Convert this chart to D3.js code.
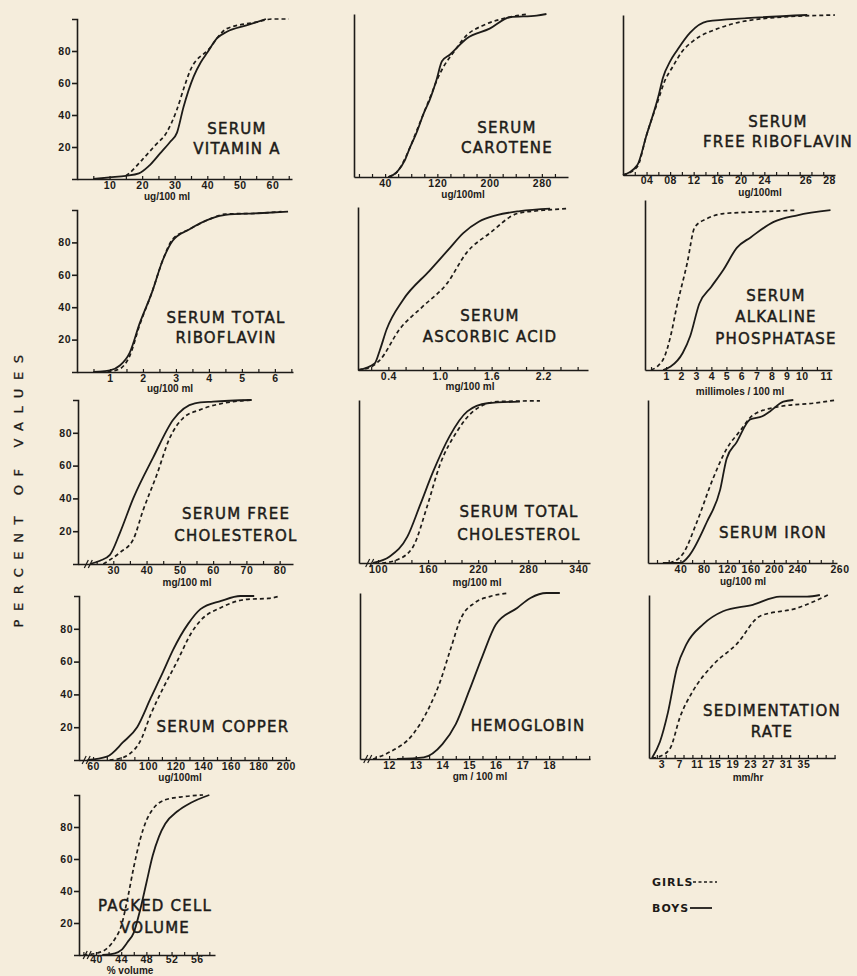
<!DOCTYPE html>
<html>
<head>
<meta charset="utf-8">
<script src="https://cdn.jsdelivr.net/npm/d3@7"></script>
<style>
  body { margin: 0; background: #f5eddc; }
  svg { display: block; }
  .title { font-family: "DejaVu Sans"; font-size: 15px; letter-spacing: 1.2px; fill: #1d1b18; stroke: #1d1b18; stroke-width: 0.45px; }
  .tick text { font-family: "Liberation Sans"; font-weight: bold; font-size: 10.5px; fill: #1d1b18; letter-spacing: 0.5px; }
  .unit { font-family: "Liberation Sans"; font-weight: bold; font-size: 10px; fill: #1d1b18; }
  .ylab { font-family: "DejaVu Sans"; font-size: 13px; letter-spacing: 8.6px; fill: #1d1b18; stroke: #1d1b18; stroke-width: 0.3px; }
  .legend { font-family: "DejaVu Sans"; font-weight: bold; font-size: 11px; letter-spacing: 1px; fill: #1d1b18; }
  .axis path, .axis line { stroke: #1d1b18; stroke-width: 1.6px; }
</style>
</head>
<body>
<svg width="857" height="976"></svg>
<script>
// Cumulative percent of values, girls (dashed) vs boys (solid)
const vitaminABoys = [[5,0],[10,1],[15,2],[19,3.5],[22,8],[25.5,16],[28.5,23],[30.7,29],[32.7,45],[35.8,64],[38,73],[40,79],[43,88],[46,92],[52,96],[58,100]];
const vitaminAGirls = [[15,2],[16,3.5],[20,12],[24,21],[27.5,29],[30.6,43],[33,58],[34.8,68],[40.4,81],[46,94],[55,98],[60,100],[65,100]];

const caroteneBoys = [[45,0],[58,3],[70,10],[78,18],[88,27],[100,40],[108,47],[119,60],[127,71],[139,75],[165,85],[200,91],[231,98],[272,99],[287,100]];
const caroteneGirls = [[45,0],[58,3],[78,18],[88,28],[100,40],[110,50],[120,60],[130,68],[144,76],[165,87],[190,93],[230,98],[260,100]];

const freeRiboBoys = [[0,0],[0.024,6],[0.04,25],[0.06,49],[0.068,61],[0.08,71],[0.092,78],[0.114,89],[0.143,96],[0.21,98],[0.313,100]];
const freeRiboGirls = [[0,0],[0.024,5],[0.04,25],[0.06,47],[0.07,58],[0.085,68],[0.1,77],[0.12,84],[0.165,92],[0.245,98],[0.36,100]];

const totalRiboBoys = [[0.5,0],[1,1],[1.3,4],[1.6,12],[1.9,30],[2.27,49],[2.6,69],[2.9,81],[3.4,88],[4.1,95],[4.5,97],[5.5,98],[6.4,99]];
const totalRiboGirls = [[0.5,0],[1,0.5],[1.3,2],[1.6,10],[1.9,29],[2.27,49],[2.6,69],[2.9,82],[3.4,88],[4.1,95],[4.5,97.5],[5.5,98],[6.2,99]];

const ascorbicBoys = [[0.05,0],[0.24,4],[0.3,12],[0.38,25],[0.57,43],[0.88,61],[1.1,74],[1.27,84],[1.45,91],[1.66,95],[1.93,97.5],[2.28,99]];
const ascorbicGirls = [[0.05,0],[0.2,2],[0.3,6],[0.53,25],[0.8,39],[1.08,53],[1.31,72],[1.58,84],[1.9,96],[2.2,98],[2.48,99]];

const alkalineBoys = [[0.8,0],[1.3,2],[2.1,10],[2.6,20],[3.2,39],[4,49],[4.8,59],[5.7,72],[6.6,78],[8.1,87],[9.7,91],[11.9,94]];
const alkalineGirls = [[0,0],[0.4,2],[0.9,8],[1.3,20],[1.7,37],[2.4,63],[2.9,84],[3.7,89],[4.8,92],[7,93],[9.7,94]];

const freeCholBoys = [[23,0],[26,2],[29,5.6],[32,19],[36,40],[42,65],[48,88],[54.5,98],[60,99],[71.6,100]];
const freeCholGirls = [[27,0],[32,7],[36,15],[39,33],[43,54],[47,77],[51,89],[56,94],[66,99],[72,100]];

const totalCholBoys = [[94,0],[114,4],[135,16],[150,35],[166,56],[186,78],[207,93],[231,98],[270,99]];
const totalCholGirls = [[105,0],[123,2],[142,10],[159,35],[174,60],[195,81],[214,93],[243,99],[294,99.5]];

const ironBoys = [[10,0],[40,0],[56,5],[85,25],[108,45],[119,64],[136,74],[159,88],[180,90],[193,93],[216,99],[233,100]];
const ironGirls = [[22,0],[45,6],[68,25],[96,52],[119,70],[142,81],[165,91],[210,96],[267,98],[307,100]];

const copperBoys = [[56,0],[70,2],[82,11],[92,20],[102,38],[111,54],[118,67],[129,83],[138,92],[153,97],[167,100],[177,100]];
const copperGirls = [[72,0],[80,1],[87,4],[94,11],[102,28],[111,44],[121,60],[131,77],[138,85],[153,93],[172,98],[187,98.5],[196,100]];

const hemoBoys = [[12.3,0],[13.3,1],[14,9],[14.5,21],[15,41],[15.5,62],[16,81],[16.8,91],[17.3,97],[17.9,100],[18.4,100]];
const hemoGirls = [[11.4,0],[12,4],[12.9,15],[13.5,31],[13.9,46],[14.3,66],[14.7,85],[15.2,94],[15.8,98],[16.5,100]];

const sedBoys = [[0.9,0],[2.7,10],[4.5,28],[6.5,55],[8.7,70],[12.4,82],[16.9,90],[23.6,94],[29.7,99],[33,99],[35.8,99],[38.7,100]];
const sedGirls = [[0.9,0],[2.7,1],[5,6],[7.2,25],[10.1,41],[14.6,57],[20,70],[25.2,87],[33.6,92],[40.5,100]];

const packedBoys = [[41,0],[43,1],[44,3],[45,8],[46,14],[47,28],[48,45],[49,62],[50,74],[51,82],[53,90],[55,95],[58,100]];
const packedGirls = [[38,0],[40,1],[42,5],[43,10],[44,18],[45,35],[46,55],[47,72],[48,84],[49,91],[51,97],[54,99],[57,100]];

// tick values and labels
const yTickValues = [20, 40, 60, 80];
const vitaminATicks = [10, 20, 30, 40, 50, 60];
const caroteneTicks = [40, 120, 200, 280];
const freeRiboTicks = [0.04, 0.08, 0.12, 0.16, 0.20, 0.24, 0.31, 0.35];
const freeRiboLabels = ["04", "08", "12", "16", "20", "24", "26", "28"];
const totalRiboTicks = [1, 2, 3, 4, 5, 6];
const ascorbicTicks = [0.4, 1.0, 1.6, 2.2];
const ascorbicLabels = ["0.4", "1.0", "1.6", "2.2"];
const alkalineTicks = [1, 2, 3, 4, 5, 6, 7, 8, 9, 10, 11.6];
const alkalineLabels = ["1", "2", "3", "4", "5", "6", "7", "8", "9", "10", "11"];
const freeCholTicks = [30, 40, 50, 60, 70, 80];
const totalCholTicks = [100, 160, 220, 280, 340];
const ironTicks = [40, 80, 120, 160, 200, 240, 312];
const ironLabels = ["40", "80", "120", "160", "200", "240", "260"];
const copperTicks = [60, 80, 100, 120, 140, 160, 180, 200];
const hemoTicks = [12, 13, 14, 15, 16, 17, 18];
const sedTicks = [3, 7, 11, 15, 19, 23, 27, 31, 35];
const packedTicks = [40, 44, 48, 52, 56];

const panels = [
  { title: ["SERUM", "VITAMIN A"], unit: "ug/100 ml", boys: vitaminABoys, girls: vitaminAGirls, domain: [0, 66], ticks: vitaminATicks, minor: 5, yTicks: true },
  { title: ["SERUM", "CAROTENE"], unit: "ug/100ml", boys: caroteneBoys, girls: caroteneGirls, domain: [-7.6, 320], ticks: caroteneTicks, minor: 20 },
  { title: ["SERUM", "FREE RIBOFLAVIN"], unit: "ug/100ml", boys: freeRiboBoys, girls: freeRiboGirls, domain: [0, 0.36], ticks: freeRiboTicks, labels: freeRiboLabels, minor: 0.02 },
  { title: ["SERUM TOTAL", "RIBOFLAVIN"], unit: "ug/100 ml", boys: totalRiboBoys, girls: totalRiboGirls, domain: [0, 6.55], ticks: totalRiboTicks, minor: 0.5, yTicks: true },
  { title: ["SERUM", "ASCORBIC ACID"], unit: "mg/100 ml", boys: ascorbicBoys, girls: ascorbicGirls, domain: [0.047, 2.72], ticks: ascorbicTicks, labels: ascorbicLabels, minor: 0.2 },
  { title: ["SERUM", "ALKALINE", "PHOSPHATASE"], unit: "millimoles / 100 ml", boys: alkalineBoys, girls: alkalineGirls, domain: [-0.4, 12], ticks: alkalineTicks, labels: alkalineLabels, minor: 1 },
  { title: ["SERUM FREE", "CHOLESTEROL"], unit: "mg/100 ml", boys: freeCholBoys, girls: freeCholGirls, domain: [19.4, 84], ticks: freeCholTicks, minor: 5, yTicks: true, brk: 22.5 },
  { title: ["SERUM TOTAL", "CHOLESTEROL"], unit: "mg/100 ml", boys: totalCholBoys, girls: totalCholGirls, domain: [77.2, 354], ticks: totalCholTicks, minor: 20, brk: 90 },
  { title: ["SERUM IRON"], unit: "ug/100 ml", boys: ironBoys, girls: ironGirls, domain: [-15.4, 307.7], ticks: ironTicks, labels: ironLabels, minor: 20 },
  { title: ["SERUM COPPER"], unit: "ug/100ml", boys: copperBoys, girls: copperGirls, domain: [49.8, 203], ticks: copperTicks, minor: 10, yTicks: true, brk: 55 },
  { title: ["HEMOGLOBIN"], unit: "gm / 100 ml", boys: hemoBoys, girls: hemoGirls, domain: [10.91, 19.53], ticks: hemoTicks, minor: 0.5, brk: 11.2 },
  { title: ["SEDIMENTATION", "RATE"], unit: "mm/hr", boys: sedBoys, girls: sedGirls, domain: [0.23, 42.1], ticks: sedTicks, minor: 2 },
  { title: ["PACKED CELL", "VOLUME"], unit: "% volume", boys: packedBoys, girls: packedGirls, domain: [37.3, 58.9], ticks: packedTicks, minor: 2, yTicks: true, brk: 38.6 }
];

// pixel boxes for each panel (pad = gap between axis and tick labels)
const boxes = [
  { x0: 77, x1: 292, base: 179, top: 19, tx: 237, ty: [129, 149], ux: 167, uy: 197, pad: 3 },
  { x0: 354, x1: 568, base: 177, top: 14, tx: 507, ty: [128, 148], ux: 463, uy: 195, pad: 3 },
  { x0: 623, x1: 835, base: 175, top: 15, tx: 778, ty: [122, 142], ux: 760, uy: 193, pad: 2 },
  { x0: 77, x1: 293, base: 372, top: 210, tx: 226, ty: [318, 338], ux: 170, uy: 389, pad: 3 },
  { x0: 358, x1: 588, base: 370, top: 207, tx: 490, ty: [316, 337], ux: 470, uy: 387, pad: 3 },
  { x0: 645, x1: 832, base: 370, top: 200, tx: 776, ty: [296, 317, 339], ux: 740, uy: 392, pad: 3 },
  { x0: 78, x1: 293, base: 564, top: 400, tx: 236, ty: [514, 536], ux: 187, uy: 583, pad: 3 },
  { x0: 359, x1: 590, base: 563, top: 400, tx: 519, ty: [512, 535], ux: 477, uy: 583, pad: 3 },
  { x0: 648, x1: 837, base: 563, top: 400, tx: 773, ty: [533], ux: 743, uy: 582, pad: 3 },
  { x0: 79, x1: 290, base: 760, top: 596, tx: 223, ty: [727], ux: 180, uy: 778, pad: 3 },
  { x0: 360, x1: 590, base: 759, top: 593, tx: 528, ty: [726], ux: 480, uy: 777, pad: 3 },
  { x0: 649, x1: 835, base: 758, top: 595, tx: 772, ty: [711, 732], ux: 748, uy: 778, pad: 3 },
  { x0: 79, x1: 215, base: 955, top: 795, tx: 155, ty: [906, 928], ux: 130, uy: 971, pad: 1 }
];

const ink = "#1d1b18";
const svg = d3.select("svg");

svg.append("rect").attr("width", 857).attr("height", 976).attr("fill", "#f5eddc");

panels.forEach(function (p, i) {
  const b = boxes[i];
  const x = d3.scaleLinear().domain(p.domain).range([b.x0, b.x1]);
  const y = d3.scaleLinear().domain([0, 100]).range([b.base, b.top]);
  const g = svg.append("g");

  // minor ticks crossing the x axis
  const minorVals = d3.range(Math.ceil(p.domain[0] / p.minor) * p.minor, p.domain[1], p.minor)
    .filter(function (v) { return x(v) > b.x0 + 3; });
  g.append("g")
    .attr("class", "axis")
    .attr("transform", "translate(0," + (b.base + 1) + ")")
    .call(d3.axisTop(x).tickValues(minorVals).tickSize(4).tickFormat(""))
    .call(function (s) { s.select(".domain").remove(); })
    .selectAll("line").style("stroke-width", "1.2px");

  // x axis with labels
  g.append("g")
    .attr("class", "axis")
    .attr("transform", "translate(0," + b.base + ")")
    .call(d3.axisBottom(x).tickValues(p.ticks).tickSize(0).tickSizeOuter(0).tickPadding(b.pad)
      .tickFormat(function (d, k) { return p.labels ? p.labels[k] : d; }));

  // y axis
  const yAxis = d3.axisLeft(y).tickSizeOuter(0);
  if (p.yTicks) yAxis.tickValues(yTickValues).tickSize(5).tickPadding(1);
  else yAxis.tickValues([]);
  g.append("g")
    .attr("class", "axis")
    .attr("transform", "translate(" + b.x0 + ",0)")
    .call(yAxis);

  // axis break marks
  if (p.brk !== undefined) {
    [-2, 2].forEach(function (o) {
      g.append("line")
        .attr("x1", x(p.brk) + o - 2).attr("x2", x(p.brk) + o + 2)
        .attr("y1", b.base + 4).attr("y2", b.base - 4)
        .attr("stroke", ink).attr("stroke-width", 1.2);
    });
  }

  const line = d3.line()
    .x(function (d) { return x(d[0]); })
    .y(function (d) { return y(d[1]); })
    .curve(d3.curveMonotoneX);

  g.append("path").datum(p.girls)
    .attr("d", line).attr("fill", "none").attr("stroke", ink)
    .attr("stroke-width", 1.7).attr("stroke-dasharray", "4,3");
  g.append("path").datum(p.boys)
    .attr("d", line).attr("fill", "none").attr("stroke", ink)
    .attr("stroke-width", 1.8);

  // title
  p.title.forEach(function (t, k) {
    g.append("text").attr("class", "title")
      .attr("x", b.tx).attr("y", b.ty[k])
      .attr("text-anchor", "middle").attr("dominant-baseline", "middle")
      .text(t);
  });

  // unit label
  g.append("text").attr("class", "unit")
    .attr("x", b.ux).attr("y", b.uy)
    .attr("text-anchor", "middle").attr("dominant-baseline", "middle")
    .text(p.unit);
});

// shared y title
svg.append("text").attr("class", "ylab")
  .attr("transform", "translate(19,487)rotate(-90)")
  .attr("text-anchor", "middle").attr("dominant-baseline", "middle")
  .text("PERCENT OF VALUES");

// legend
const legend = svg.append("g");
legend.append("text").attr("class", "legend").attr("x", 652).attr("y", 886).text("GIRLS");
legend.append("line").attr("x1", 693).attr("x2", 717).attr("y1", 882).attr("y2", 882)
  .attr("stroke", ink).attr("stroke-width", 1.6).attr("stroke-dasharray", "3,2.5");
legend.append("text").attr("class", "legend").attr("x", 652).attr("y", 912).text("BOYS");
legend.append("line").attr("x1", 690).attr("x2", 712).attr("y1", 908).attr("y2", 908)
  .attr("stroke", ink).attr("stroke-width", 1.8);
</script>
</body>
</html>
